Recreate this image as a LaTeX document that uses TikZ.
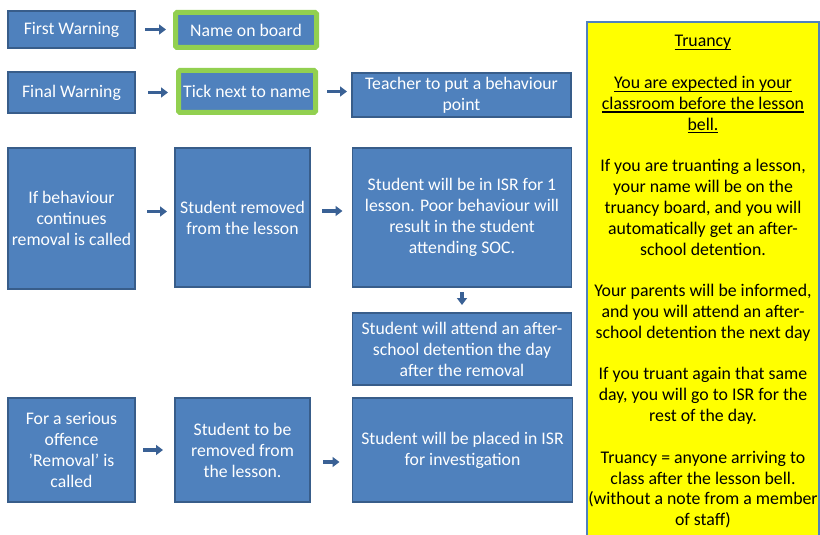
\documentclass[tikz,border=0pt]{standalone}
\usepackage{fontspec}
\setmainfont{Carlito}
\usetikzlibrary{arrows.meta}

\definecolor{boxblue}{HTML}{4F81BD}
\definecolor{boxedge}{HTML}{385D8A}
\definecolor{arrowblue}{HTML}{3A6195}
\definecolor{framegreen}{HTML}{92D050}
\definecolor{notefill}{HTML}{FFFF00}
\definecolor{noteedge}{HTML}{4F81BD}

% underline a short run of text with a rule just below the baseline
\newcommand\undertext[1]{\setbox0\hbox{#1}\rlap{\vrule height -2.2pt depth 3.4pt width \wd0}\box0}

\tikzset{
  stepbox/.style={draw=boxedge, line width=1.2pt, fill=boxblue, text=white,
    font=\fontsize{17.7}{21}\selectfont, align=center, inner sep=0pt, outer sep=0pt},
  greenbox/.style={stepbox, draw=framegreen, line width=5pt, rounded corners=1.5pt},
  flow/.style={draw=arrowblue, line width=3.5pt, -{Triangle[length=7pt,width=10pt]}},
}

\begin{document}
\begin{tikzpicture}[x=1pt, y=-1pt]
\useasboundingbox (0,0) rectangle (820,535);

% warnings
\node[stepbox, minimum width=127, minimum height=37] (fw) at (71.5,29.5) {First Warning};
\node[greenbox, minimum width=141, minimum height=35] (nob) at (246,30) {Name on board};
\node[stepbox, minimum width=127, minimum height=41] (fin) at (71.5,92.5) {Final Warning};
\node[greenbox, minimum width=137, minimum height=42] (tick) at (247,91.5) {Tick next to name};
\node[stepbox, minimum width=219, minimum height=44] (teach) at (461.5,95) {Teacher to put a behaviour\\point};

% removal
\node[stepbox, minimum width=127, minimum height=141] (ifb) at (71.5,218.5) {If behaviour\\continues\\removal is called};
\node[stepbox, minimum width=135, minimum height=139] (srem) at (242.5,217.5) {Student removed\\from the lesson};
\node[stepbox, minimum width=219, minimum height=139] (isr) at (462,217.5) {Student will be in ISR for 1\\lesson. Poor behaviour will\\result in the student\\attending SOC.};
\node[stepbox, minimum width=219, minimum height=72] (att) at (462,349) {Student will attend an after-\\school detention the day\\after the removal};

% serious offence
\node[stepbox, minimum width=127, minimum height=104] (ser) at (71.5,450) {For a serious\\offence\\’Removal’ is\\called};
\node[stepbox, minimum width=135, minimum height=104] (tobe) at (242.5,450) {Student to be\\removed from\\the lesson.};
\node[stepbox, minimum width=220, minimum height=104] (plc) at (462.5,450) {Student will be placed in ISR\\for investigation};

% connectors
\draw[flow, shorten <=10pt, shorten >=9.5pt] (fw.east) -- (fw.east -| nob.west);
\draw[flow, shorten <=13pt, shorten >=10.5pt] (fin.east) -- (fin.east -| tick.west);
\draw[flow, shorten <=11.5pt, shorten >=5pt] (tick.east) -- (tick.east -| teach.west);
\draw[flow, shorten <=12pt, shorten >=8pt] ([yshift=7pt]ifb.east) -- ([yshift=7pt]ifb.east -| srem.west);
\draw[flow, shorten <=12pt, shorten >=10pt] ([yshift=6.5pt]srem.east) -- ([yshift=6.5pt]srem.east -| isr.west);
\draw[flow, shorten <=5pt, shorten >=8pt] (isr.south) -- (att.north);
\draw[flow, shorten <=8pt, shorten >=12pt] (ser.east) -- (ser.east -| tobe.west);
\draw[flow, shorten <=13pt, shorten >=13pt] ([yshift=-12pt]tobe.east) -- ([yshift=-12pt]tobe.east -| plc.west);

% truancy note
\draw[draw=noteedge, line width=1.2pt, fill=notefill] (587,22) rectangle (819,545);
\node[anchor=north, align=center, inner sep=0pt, font=\fontsize{17.8}{20.83}\selectfont] (note) at (703,31.5)
{\rule{0pt}{15pt}\undertext{Truancy}\\[20.83pt]
\undertext{You are expected in your}\\
\undertext{classroom before the lesson}\\
\undertext{bell.}\\[20.83pt]
If you are truanting a lesson,\\
your name will be on the\\
truancy board, and you will\\
automatically get an after-\\
school detention.\\[20.83pt]
Your parents will be informed,\\
and you will attend an after-\\
school detention the next day\\[20.83pt]
If you truant again that same\\
day, you will go to ISR for the\\
rest of the day.\\[20.83pt]
Truancy = anyone arriving to\\
class after the lesson bell.\\
(without a note from a member\\
of staff)};
\end{tikzpicture}
\end{document}
